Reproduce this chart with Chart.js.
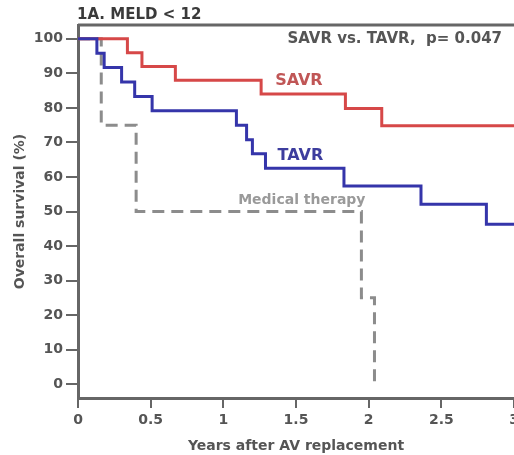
<!DOCTYPE html>
<html>
<head>
<meta charset="utf-8">
<script src="https://cdn.jsdelivr.net/npm/chart.js@4"></script>
<style>
  html, body { margin: 0; padding: 0; background: #ffffff; }
  #wrap { width: 514px; height: 455px; }
</style>
</head>
<body>
<div id="wrap"><canvas id="myChart" width="514" height="455"></canvas></div>
<script>
// Kaplan-Meier steps (time in years, survival in %)
const savrTimes = [0, 0.34, 0.44, 0.67, 1.26, 1.84, 2.09, 3];
const savrSurv  = [100, 96, 92, 88, 84, 79.8, 74.8, 74.8];

const tavrTimes = [0, 0.13, 0.18, 0.30, 0.39, 0.51, 1.09, 1.16, 1.20, 1.29, 1.83, 2.36, 2.81, 3];
const tavrSurv  = [100, 95.8, 91.7, 87.5, 83.3, 79.2, 75, 70.8, 66.7, 62.5, 57.4, 52.1, 46.3, 46.3];

const medTimes = [0, 0.16, 0.40, 1.95, 2.04];
const medSurv  = [100, 75, 50, 25, 0];

const xTicks = [0, 0.5, 1, 1.5, 2, 2.5, 3];
const yTicks = [0, 10, 20, 30, 40, 50, 60, 70, 80, 90, 100];

const textColor = "#555555";
const fontFamily = "'DejaVu Sans', sans-serif";

function toPoints(times, surv) {
    return times.map((t, i) => ({x: t, y: surv[i]}));
}

// extra texts: panel title, p value, curve names
const textPlugin = {
    id: 'texts',
    afterDraw(chart) {
        const ctx = chart.ctx;
        const xs = chart.scales.x, ys = chart.scales.y;
        const area = chart.chartArea;
        ctx.save();
        // top frame line
        ctx.strokeStyle = "#666666";
        ctx.lineWidth = 3;
        ctx.beginPath();
        ctx.moveTo(area.left, area.top);
        ctx.lineTo(chart.width, area.top);
        ctx.stroke();

        ctx.textBaseline = 'middle';
        ctx.font = "bold 15px " + fontFamily;
        ctx.fillStyle = "#3a3a3a";
        ctx.textAlign = 'left';
        ctx.fillText("1A. MELD < 12", 77, 15);

        ctx.fillStyle = textColor;
        ctx.textAlign = 'right';
        ctx.fillText("SAVR vs. TAVR,  p= 0.047", 502, 39);

        ctx.textAlign = 'center';
        ctx.font = "bold 16px " + fontFamily;
        ctx.fillStyle = "#c05656";
        ctx.fillText("SAVR", xs.getPixelForValue(1.52), ys.getPixelForValue(87.8));
        ctx.fillStyle = "#3d3d9e";
        ctx.fillText("TAVR", xs.getPixelForValue(1.53), ys.getPixelForValue(66.2));
        ctx.font = "bold 14px " + fontFamily;
        ctx.fillStyle = "#9a9a9a";
        ctx.fillText("Medical therapy", xs.getPixelForValue(1.54), ys.getPixelForValue(53.3));
        ctx.restore();
    }
};

window.addEventListener('load', function () {
    const ctx = document.getElementById('myChart').getContext('2d');
    new Chart(ctx, {
        type: 'line',
        data: {
            datasets: [
                {
                    label: "TAVR",
                    data: toPoints(tavrTimes, tavrSurv),
                    borderColor: "#3535aa",
                    borderWidth: 3,
                    stepped: 'before',
                    pointRadius: 0,
                    order: 0
                },
                {
                    label: "SAVR",
                    data: toPoints(savrTimes, savrSurv),
                    borderColor: "#d64848",
                    borderWidth: 3,
                    stepped: 'before',
                    pointRadius: 0,
                    order: 1
                },
                {
                    label: "Medical therapy",
                    data: toPoints(medTimes, medSurv),
                    borderColor: "#8c8c8c",
                    borderWidth: 3,
                    borderDash: [12, 7],
                    stepped: 'before',
                    pointRadius: 0,
                    order: 2
                }
            ]
        },
        options: {
            responsive: false,
            animation: false,
            layout: { padding: { top: 25, left: 0, right: 0, bottom: 0 } },
            plugins: {
                legend: { display: false },
                tooltip: { enabled: false }
            },
            scales: {
                x: {
                    type: 'linear',
                    min: 0,
                    max: 3,
                    afterBuildTicks: (scale) => { scale.ticks = xTicks.map(v => ({value: v})); },
                    afterFit: (scale) => {
                        scale.height = 57;
                        scale.paddingLeft = 0;
                        scale.paddingRight = 0;
                    },
                    ticks: {
                        color: textColor,
                        font: { family: fontFamily, size: 14, weight: 'bold' },
                        padding: 4,
                        maxRotation: 0,
                        autoSkip: false,
                        callback: (v) => String(v)
                    },
                    grid: { drawOnChartArea: false, drawTicks: true, tickLength: 10, color: "#666666", lineWidth: 2 },
                    border: { color: "#666666", width: 3 },
                    title: {
                        display: true,
                        text: "Years after AV replacement",
                        color: textColor,
                        font: { family: fontFamily, size: 14, weight: 'bold' },
                        padding: { top: 0, bottom: 0 }
                    }
                },
                y: {
                    min: -4,
                    max: 104,
                    afterBuildTicks: (scale) => { scale.ticks = yTicks.map(v => ({value: v})); },
                    afterFit: (scale) => {
                        scale.width = 78;
                        scale.paddingTop = 0;
                        scale.paddingBottom = 0;
                    },
                    ticks: {
                        color: textColor,
                        font: { family: fontFamily, size: 14, weight: 'bold' },
                        padding: 3,
                        autoSkip: false
                    },
                    grid: { drawOnChartArea: false, drawTicks: true, tickLength: 12, color: "#666666", lineWidth: 2 },
                    border: { color: "#666666", width: 3 },
                    title: {
                        display: true,
                        text: "Overall survival (%)",
                        color: textColor,
                        font: { family: fontFamily, size: 14, weight: 'bold' },
                        padding: { top: 12, bottom: 0 }
                    }
                }
            }
        },
        plugins: [textPlugin]
    });
});
</script>
</body>
</html>
